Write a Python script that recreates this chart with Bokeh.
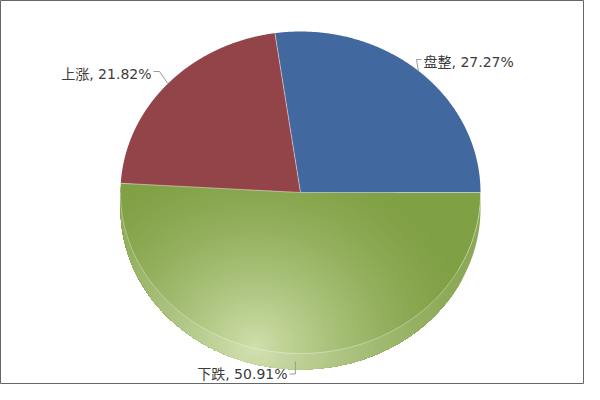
import numpy as np
from bokeh.plotting import figure
from bokeh.models import Range1d
from bokeh.core.properties import value
from bokeh.embed import file_html
from bokeh.resources import INLINE

# ---- data ----
categories = ["盘整", "上涨", "下跌"]
percents = [27.27, 21.82, 50.91]
slice_colors = ["#4169a0", "#924449", "#80a044"]
labels = [f"{c}, {v:.2f}%" for c, v in zip(categories, percents)]

# ---- layout (reference pixels) ----
CX, CY, RX, RY, DEPTH = 300.0, 192.0, 180.0, 161.0, 16.0
W, H, M = 584, 384, 0
# label elbows / text anchors (pixels) and alignment
label_elbow = [(416, 59), (159, 71), (None, 373.5)]
label_end = [(421, 59), (153, 71), (289, 373.5)]
label_text = [(423, 61), (151, 73), (287, 373)]
label_align = ["left", "right", "right"]

HL_PX = (255.0, 345.0)
HL_COLOR = np.array([0xcf, 0xe0, 0xab], float)


def dx(px):
    return (np.asarray(px, float) - CX) / RX


def dy(py):
    return (CY - np.asarray(py, float)) / RY


def px_of(X):
    return CX + np.asarray(X) * RX


def py_of(Y):
    return CY - np.asarray(Y) * RY


def hex2rgb(h):
    h = h.lstrip("#")
    return np.array([int(h[i:i + 2], 16) for i in (0, 2, 4)], float)


def rgb2hex(c):
    c = np.clip(np.round(c), 0, 255).astype(int)
    return "#%02x%02x%02x" % tuple(c)


p = figure(width=W, height=H, output_backend="svg", toolbar_location=None,
           x_range=Range1d(float(dx(M)), float(dx(M + W))),
           y_range=Range1d(float(dy(M + H)), float(dy(M))),
           x_axis_location=None, y_axis_location=None, min_border=0)
p.grid.visible = False
p.outline_line_color = "#666666"
p.outline_line_width = 1
p.background_fill_color = "white"
p.border_fill_color = "white"

fr = np.array(percents) / np.sum(percents)
edges = np.concatenate([[0.0], np.cumsum(fr)]) * 2 * np.pi
d = DEPTH / RY

slice_xs, slice_ys = [], []
for i in range(len(percents)):
    t = np.linspace(edges[i], edges[i + 1], 300)
    slice_xs.append(np.concatenate([[0.0], np.cos(t)]))
    slice_ys.append(np.concatenate([[0.0], np.sin(t)]))

gi = 2  # green slice (contains the lower half)
a0g = edges[gi]

# side band (lower half, visible depth)
tb = np.linspace(np.pi, 2 * np.pi, 400)
band_x = np.concatenate([np.cos(tb), np.cos(tb[::-1])])
band_y = np.concatenate([np.sin(tb), np.sin(tb[::-1]) - d])

base_rgb = hex2rgb(slice_colors[gi])

# base fill of green slice + side band
p.patch(band_x, band_y, fill_color=slice_colors[gi], line_color=None)
p.patch(slice_xs[gi], slice_ys[gi], fill_color=slice_colors[gi], line_color=None)


# ---- radial highlight on the green slice (stacked levels) ----
def inside(pxs, pys):
    X = dx(pxs)
    Y = dy(pys)
    ang = np.mod(np.arctan2(Y, X), 2 * np.pi)
    in_top = (X * X + Y * Y <= 1.0) & ((Y <= 0) | (ang >= a0g))
    in_band = (Y <= 0) & (np.abs(X) <= 1.0) & ((X * X + (Y + d) ** 2 <= 1.0) | (Y >= -d))
    return in_top | in_band


phis = np.linspace(0, 2 * np.pi, 1441)[:-1]
ux, uy = np.cos(phis), np.sin(phis)
lo = np.zeros_like(phis)
hi = np.full_like(phis, 600.0)
for _ in range(40):
    mid = 0.5 * (lo + hi)
    ins = inside(HL_PX[0] + mid * ux, HL_PX[1] + mid * uy)
    lo = np.where(ins, mid, lo)
    hi = np.where(ins, hi, mid)
dist = lo

SX, SY, R, POW = 1.1, 1.0, 200.0, 1.5
g = np.sqrt((ux / SX) ** 2 + (uy / SY) ** 2)
lev_xs, lev_ys, lev_cols = [], [], []
K = 70
radii = np.linspace(R, 2.0, K)
for r in radii:
    s = np.minimum(dist, r / g)
    lev_xs.append(dx(HL_PX[0] + s * ux))
    lev_ys.append(dy(HL_PX[1] + s * uy))
    tt = min(r / R, 1.0)
    w = (1 - tt) ** POW
    lev_cols.append(rgb2hex(base_rgb * (1 - w) + HL_COLOR * w))
p.patches(lev_xs, lev_ys, fill_color=lev_cols, line_color=None)

# lighten side band slightly
p.patch(band_x, band_y, fill_color="white", fill_alpha=0.10, line_color=None)
# rim line between top face and side
p.line(np.cos(tb), np.sin(tb), line_color="white", line_alpha=0.35, line_width=1)

# other slices
for i in range(len(percents)):
    if i == gi:
        continue
    p.patch(slice_xs[i], slice_ys[i], fill_color=slice_colors[i], line_color=None)

# separators
p.segment(x0=[0.0] * len(percents), y0=[0.0] * len(percents),
          x1=list(np.cos(edges[:-1])), y1=list(np.sin(edges[:-1])),
          line_color="white", line_alpha=0.45, line_width=1)

# ---- connectors and labels ----
mids = 0.5 * (edges[:-1] + edges[1:])
con_xs, con_ys = [], []
for i, m in enumerate(mids):
    sx_px = float(px_of(np.cos(m)))
    sy_val = np.sin(m)
    if sy_val < 0:
        sy_val -= d / 2
    sy_px = float(py_of(sy_val))
    ex, ey = label_elbow[i]
    if ex is None:
        ex = sx_px
    fx, fy = label_end[i]
    con_xs.append(list(dx([sx_px, ex, fx])))
    con_ys.append(list(dy([sy_px, ey, fy])))
p.multi_line(con_xs, con_ys, line_color="#9a9a9a", line_width=1)

for i, lab in enumerate(labels):
    tx, ty = label_text[i]
    p.text(x=[float(dx(tx))], y=[float(dy(ty))], text=[lab],
           text_align=label_align[i], text_baseline="middle",
           text_font=value("DejaVu Sans, Noto Sans CJK SC"),
           text_font_size="14px", text_color="#3c3c3c")

open("out.html", "w").write(file_html(p, INLINE))
